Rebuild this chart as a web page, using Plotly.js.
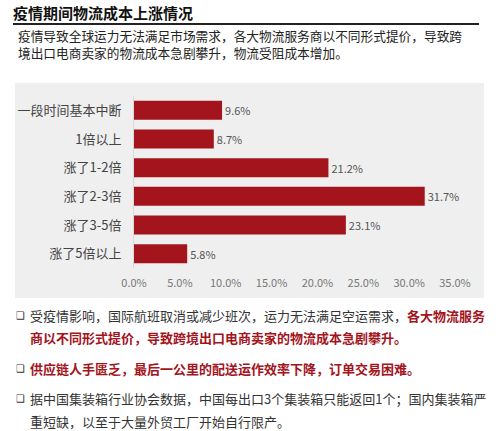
<!DOCTYPE html>
<html>
<head>
<meta charset="utf-8">
<script src="https://cdn.plot.ly/plotly-3.0.1.min.js"></script>
<style>
  body { margin: 0; background: #fff; }
  #chart { width: 499px; height: 431px; }
</style>
</head>
<body>
<div id="chart"></div>
<script>
// 数据
const categorias = ["一段时间基本中断", "1倍以上", "涨了1-2倍", "涨了2-3倍", "涨了3-5倍", "涨了5倍以上"];
const porcentajes = [9.6, 8.7, 21.2, 31.7, 23.1, 5.8];
const tickValores = [0, 5, 10, 15, 20, 25, 30, 35];

const titulo = "疫情期间物流成本上涨情况";
const parrafo = [
    "疫情导致全球运力无法满足市场需求，各大物流服务商以不同形式提价，导致跨",
    "境出口电商卖家的物流成本急剧攀升，物流受阻成本增加。"
];

const rojo = "#a3141d";
const fuente = "'Noto Sans CJK SC', 'Noto Sans', sans-serif";

// tamaño del area de grafico en pixeles
const W = 499, H = 431;
const L = 134, R = 44, T = 96, B = 163;
const pw = W - L - R, ph = H - T - B;
function px(x) { return (x - L) / pw; }
function py(y) { return (H - B - y) / ph; }

var trace = {
    type: 'bar',
    orientation: 'h',
    y: categorias,
    x: porcentajes,
    marker: { color: rojo },
    text: porcentajes.map(v => v.toFixed(1) + '%'),
    textposition: 'outside',
    textfont: { family: fuente, size: 11, color: '#555' },
    cliponaxis: false,
    hoverinfo: 'none'
};

var anotaciones = [];

function texto(x, y, t, size, color, extra) {
    anotaciones.push(Object.assign({
        xref: 'paper', yref: 'paper', x: px(x), y: py(y),
        xanchor: 'left', yanchor: 'middle', showarrow: false,
        text: t, align: 'left',
        font: { family: fuente, size: size, color: color }
    }, extra || {}));
}

texto(11, 12, '<b>' + titulo + '</b>', 15, '#111');
texto(16, 44, parrafo.join('<br>'), 12.7, '#222');

// viñetas
const boton = "❑";
const fBoton = { font: { family: 'DejaVu Sans', size: 10, color: '#333' } };
texto(14, 315, boton, 10, '#333', fBoton);
texto(14, 368, boton, 10, '#333', fBoton);
texto(14, 398, boton, 10, '#333', fBoton);

texto(28, 315, '受疫情影响，国际航班取消或减少班次，运力无法满足空运需求，<span style="color:' + rojo + '"><b>各大物流服务</b></span>', 13, '#333');
texto(28, 337, '<b>商以不同形式提价，导致跨境出口电商卖家的物流成本急剧攀升。</b>', 13, rojo);
texto(28, 368, '<b>供应链人手匮乏，最后一公里的配送运作效率下降，订单交易困难。</b>', 13, rojo);
texto(28, 398, '据中国集装箱行业协会数据，中国每出口3个集装箱只能返回1个；国内集装箱严', 13, '#333');
texto(28, 421, '重短缺，以至于大量外贸工厂开始自行限产。', 13, '#333');

var layout = {
    width: W,
    height: H,
    margin: { l: L, r: R, t: T, b: B, pad: 0 },
    paper_bgcolor: '#fff',
    plot_bgcolor: 'rgba(0,0,0,0)',
    showlegend: false,
    bargap: 0.34,
    xaxis: {
        range: [0, 35],
        tickvals: tickValores,
        ticktext: tickValores.map(v => v.toFixed(1) + '%'),
        showgrid: false,
        zeroline: false,
        showline: false,
        ticks: '',
        ticklabelstandoff: 7,
        tickfont: { family: fuente, size: 11, color: '#777' },
        fixedrange: true
    },
    yaxis: {
        autorange: 'reversed',
        showgrid: false,
        showline: true,
        linecolor: '#d9d9d9',
        linewidth: 1,
        ticks: '',
        ticklabelstandoff: 9,
        tickfont: { family: fuente, size: 13, color: '#444' },
        fixedrange: true
    },
    shapes: [
        // panel gris
        { type: 'rect', xref: 'paper', yref: 'paper', layer: 'below',
          x0: px(15), x1: px(484), y0: py(298), y1: py(83),
          fillcolor: '#efefef', line: { width: 0 } },
        // linea bajo el titulo
        { type: 'line', xref: 'paper', yref: 'paper',
          x0: px(13), x1: px(479), y0: py(24), y1: py(24),
          line: { color: '#222', width: 2 } }
    ],
    annotations: anotaciones
};

Plotly.newPlot('chart', [trace], layout, { displayModeBar: false, staticPlot: true });
</script>
</body>
</html>
